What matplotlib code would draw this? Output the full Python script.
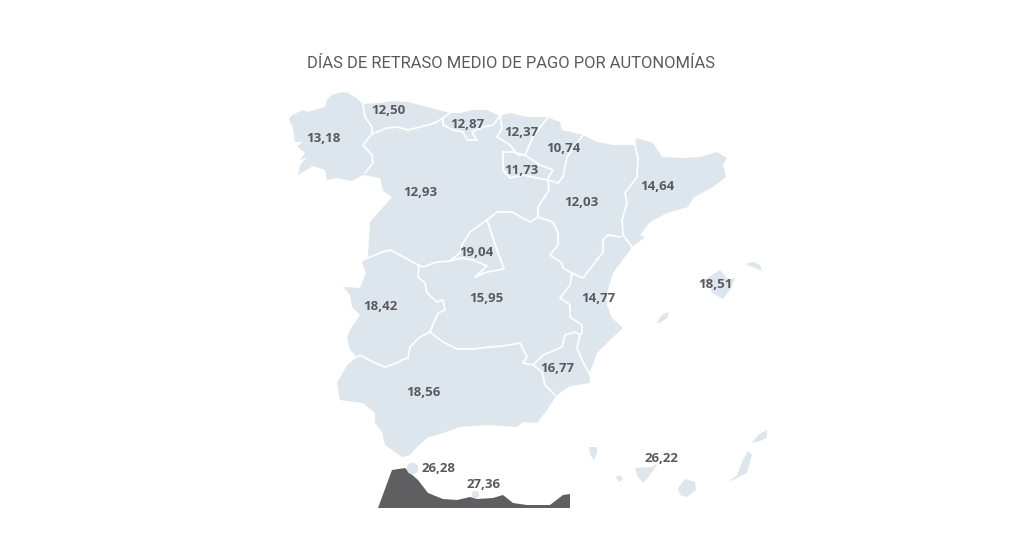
import matplotlib
matplotlib.use("Agg")
import matplotlib.pyplot as plt

TITLE = "DÍAS DE RETRASO MEDIO DE PAGO POR AUTONOMÍAS"
FILL = "#dde5ed"
DARK = "#5f5f61"
TEXT = "#5a5a5c"

# labels: value, x, y in picture pixels
labels = ["13,18", "12,50", "12,87", "12,37", "10,74", "11,73", "12,93", "12,03", "14,64",
          "19,04", "15,95", "18,42", "14,77", "18,51", "16,77", "18,56", "26,28", "27,36", "26,22"]
label_x = [323, 388, 467, 521, 563, 521, 420, 581, 657,
           476, 486, 380, 598, 715, 557, 423, 439, 484, 661]
label_y = [138, 110, 125, 132, 149, 171, 193, 203, 186,
           252, 299, 306, 299, 285, 368, 393, 468, 485, 459]

# outlines
mainland = [(289,119),(292,115),(303,110),(308,112),(325,107),(327,100),(332,95),(342,92),(348,93),
            (355,97),(363,104),(380,103),(392,101),(408,102),(427,107),(450,113),(460,113),(473,110),
            (487,110),(500,116),(510,113),(527,117),(547,117),(560,122),(562,130),(583,135),(597,142),
            (613,145),(635,145),(636,138),(653,143),(662,157),(683,158),(700,157),(717,152),(727,158),
            (723,165),(726,177),(713,187),(693,198),(688,207),(667,213),(650,222),(640,235),(645,237),
            (632,247),(630,250),(613,273),(607,293),(607,305),(612,318),(623,328),(610,340),(597,353),
            (590,372),(590,383),(570,386),(557,395),(547,410),(537,423),(523,422),(517,427),(487,425),
            (460,427),(443,433),(427,438),(417,447),(410,455),(402,457),(385,445),(382,432),(375,423),
            (375,413),(363,403),(340,400),(337,383),(347,365),(357,357),(350,350),(347,338),(350,330),
            (360,315),(352,307),(350,295),(343,287),(360,288),(366,273),(362,262),(368,256),(370,222),
            (392,197),(383,191),(380,178),(363,175),(352,181),(337,178),(327,180),(325,170),(313,166),
            (298,175),(300,165),(307,157),(300,160),(305,153),(297,146),(303,142),(295,142),(293,128)]

borders = [
    [(363,105),(365,117),(372,127),(372,134),(363,145),(372,155),(373,163),(365,173)],
    [(372,134),(387,128),(397,127),(408,130),(420,127),(435,123),(443,118),(450,113)],
    [(443,118),(443,125),(453,130),(463,132),(467,140),(477,140),(472,132),(483,127),(493,125),(500,116)],
    [(500,116),(502,128),(497,137),(510,145),(518,155),(525,155),(533,137),(548,117)],
    [(503,152),(503,170),(510,178),(523,175),(537,178),(547,180),(553,170),(540,165),(525,155),(513,152),(503,152)],
    [(583,135),(567,157),(563,177),(558,183),(548,180),(549,190),(538,207),(538,217)],
    [(538,217),(530,222),(512,212),(497,212),(487,220),(470,232),(462,245),(460,253),(450,261),(437,262),(423,267),(418,265),(400,255),(390,250),(380,253),(363,260)],
    [(487,220),(492,235),(497,250),(500,258),(504,269),(487,272),(475,277),(487,266),(473,260),(462,258),(450,261)],
    [(419,265),(418,277),(425,283),(427,293),(437,302),(443,300),(445,310),(438,313),(434,322),(430,332)],
    [(430,332),(420,337),(410,347),(408,358),(402,360),(397,363),(385,367),(373,362),(360,355),(357,357)],
    [(430,332),(443,342),(457,349),(473,349),(490,347),(503,346),(520,343),(527,357),(523,363),(533,365),(542,372),(545,385),(555,395)],
    [(533,365),(543,355),(555,350),(562,347),(565,335),(575,332),(580,335),(577,348),(582,360),(590,375)],
    [(538,217),(553,222),(558,233),(558,245),(550,255),(562,263),(563,268),(572,273),(570,285),(560,298),(570,305),(570,317),(582,325),(582,333),(580,335)],
    [(572,273),(583,278),(593,265),(603,252),(603,240),(608,235),(620,237)],
    [(635,145),(638,158),(637,177),(625,193),(627,203),(622,220),(623,235),(632,247)],
]

islands = [
    [(698,283),(707,278),(720,270),(728,280),(735,278),(730,290),(723,299),(712,293),(710,285)],
    [(745,264),(753,262),(760,265),(762,271),(753,267)],
    [(657,322),(662,315),(669,312),(667,318),(660,323)],
    [(589,447),(597,447),(597,452),(594,460),(590,454)],
    [(616,477),(620,475),(623,479),(619,482)],
    [(635,468),(652,467),(658,463),(650,475),(643,483),(638,477)],
    [(678,488),(685,479),(695,482),(696,490),(687,497),(680,495)],
    [(728,482),(737,475),(743,460),(748,451),(752,455),(747,473),(737,478)],
    [(752,443),(758,435),(767,430),(767,438),(760,441)],
]
ceuta = (412, 468)
melilla = (475, 494)

africa = [(378,508),(392,470),(405,468),(410,473),(418,480),(428,493),(443,499),(457,500),(470,497),
          (477,499),(493,498),(503,495),(513,503),(527,505),(550,505),(563,495),(570,494),(570,508)]

fig = plt.figure(figsize=(10.24, 5.34), dpi=100)
ax = fig.add_axes([0, 0, 1, 1])
ax.set_xlim(0, 1024)
ax.set_ylim(534, 0)
ax.axis("off")

# the dark strip goes first, the white sea border of the coast sits on it
ax.fill(*zip(*africa), color=DARK, lw=0)
ax.fill(*zip(*mainland), color=FILL, lw=0)
for isl in islands:
    ax.fill(*zip(*isl), color=FILL, lw=0)
for b in borders:
    ax.plot(*zip(*b), color="white", lw=1.3, solid_joinstyle="round")
ax.scatter(*ceuta, s=70, color=FILL, lw=0, zorder=3)
ax.scatter(*melilla, s=30, color=FILL, lw=0, zorder=3)

for lab, x, y in zip(labels, label_x, label_y):
    ax.text(x, y, lab, ha="center", va="center", fontsize=9.5, color=TEXT,
            family="Open Sans", fontweight="bold", zorder=4)

ax.text(511, 63, TITLE, ha="center", va="center", fontsize=11.9, color=TEXT, family="Roboto")

fig.savefig("out.png", dpi=100)
